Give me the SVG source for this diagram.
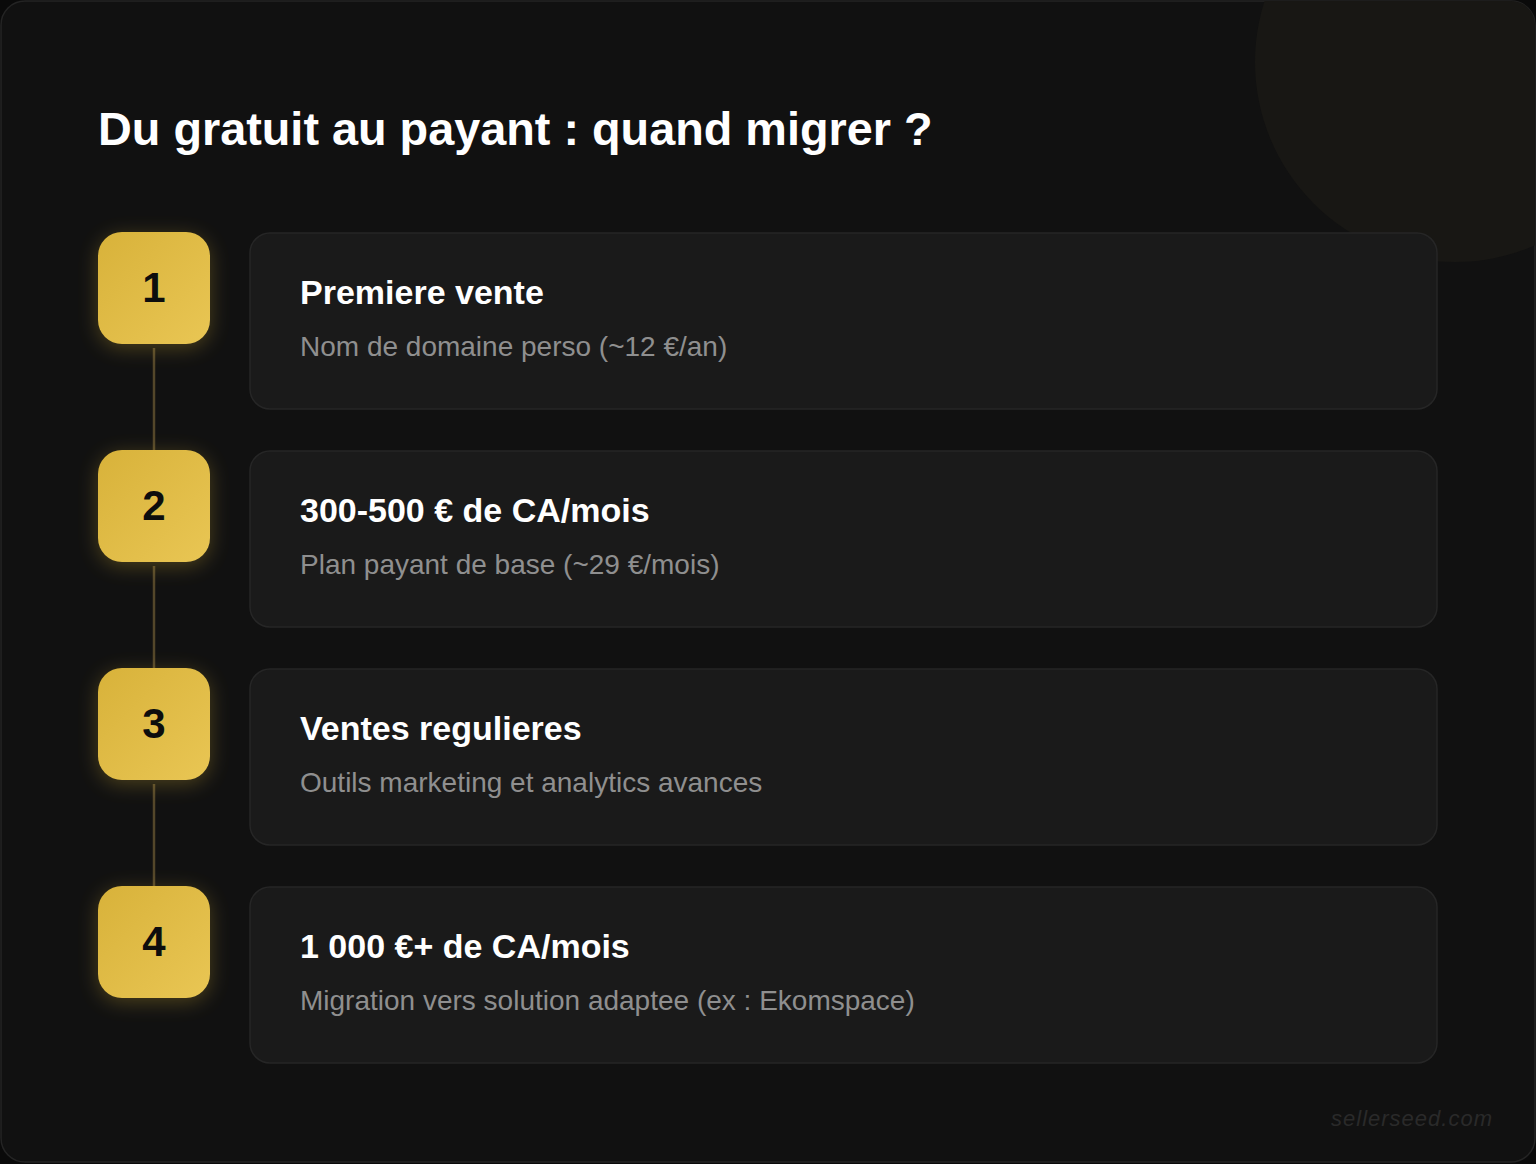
<svg xmlns="http://www.w3.org/2000/svg" width="1536" height="1164" viewBox="0 0 1536 1164">
<defs>
<linearGradient id="gold" x1="0" y1="0" x2="1" y2="1">
<stop offset="0" stop-color="#d8b23a"/>
<stop offset="1" stop-color="#e9c654"/>
</linearGradient>
<filter id="glow2" x="-50%" y="-50%" width="200%" height="200%">
<feGaussianBlur in="SourceGraphic" stdDeviation="10"/>
</filter>
<clipPath id="cardclip"><rect x="1" y="1" width="1534" height="1161" rx="24"/></clipPath>
</defs>
<style>
.num{font-family:"Liberation Sans",Arial,sans-serif;font-weight:bold;font-size:42px;fill:#0d0d0d;text-anchor:middle}
.ttl{font-family:"Liberation Sans",Arial,sans-serif;font-weight:bold;font-size:34px;fill:#fff}
.sub{font-family:"Liberation Sans",Arial,sans-serif;font-size:28px;fill:#8f8f8f}
.card{fill:#1a1a1a;stroke:#262626;stroke-width:1.5}
.box{fill:url(#gold)}
.halo{fill:#d4af37;opacity:0.3}
.line{stroke:#54472a;stroke-width:2.5}
</style>
<rect width="1536" height="1164" fill="#0a0a0a"/>
<rect x="1" y="1" width="1534" height="1161" rx="24" fill="#111111" stroke="#242424" stroke-width="1.5"/>
<circle cx="1455" cy="62" r="200" fill="#181714" clip-path="url(#cardclip)"/>
<text x="98" y="145" font-family="Liberation Sans, Arial, sans-serif" font-weight="bold" font-size="46.8" fill="#ffffff">Du gratuit au payant : quand migrer ?</text>
<g id="connectors">
<line class="line" x1="154" y1="348" x2="154" y2="450"/>
<line class="line" x1="154" y1="566" x2="154" y2="668"/>
<line class="line" x1="154" y1="784" x2="154" y2="886"/>
</g>
<g id="step1">
<rect class="halo" x="98" y="236" width="112" height="112" rx="24" filter="url(#glow2)"/>
<rect class="box" x="98" y="232" width="112" height="112" rx="24"/>
<text class="num" x="154" y="302">1</text>
<rect class="card" x="250" y="233" width="1187" height="176" rx="20"/>
<text class="ttl" x="300" y="304">Premiere vente</text>
<text class="sub" x="300" y="356">Nom de domaine perso (~12 €/an)</text>
</g>
<g id="step2">
<rect class="halo" x="98" y="454" width="112" height="112" rx="24" filter="url(#glow2)"/>
<rect class="box" x="98" y="450" width="112" height="112" rx="24"/>
<text class="num" x="154" y="520">2</text>
<rect class="card" x="250" y="451" width="1187" height="176" rx="20"/>
<text class="ttl" x="300" y="522">300-500 € de CA/mois</text>
<text class="sub" x="300" y="574">Plan payant de base (~29 €/mois)</text>
</g>
<g id="step3">
<rect class="halo" x="98" y="672" width="112" height="112" rx="24" filter="url(#glow2)"/>
<rect class="box" x="98" y="668" width="112" height="112" rx="24"/>
<text class="num" x="154" y="738">3</text>
<rect class="card" x="250" y="669" width="1187" height="176" rx="20"/>
<text class="ttl" x="300" y="740">Ventes regulieres</text>
<text class="sub" x="300" y="792">Outils marketing et analytics avances</text>
</g>
<g id="step4">
<rect class="halo" x="98" y="890" width="112" height="112" rx="24" filter="url(#glow2)"/>
<rect class="box" x="98" y="886" width="112" height="112" rx="24"/>
<text class="num" x="154" y="956">4</text>
<rect class="card" x="250" y="887" width="1187" height="176" rx="20"/>
<text class="ttl" x="300" y="958">1 000 €+ de CA/mois</text>
<text class="sub" x="300" y="1010">Migration vers solution adaptee (ex : Ekomspace)</text>
</g>
<text x="1493" y="1126" text-anchor="end" font-family="Liberation Sans, Arial, sans-serif" font-style="italic" font-size="22" fill="#2a2a2a" letter-spacing="1">sellerseed.com</text>
</svg>
